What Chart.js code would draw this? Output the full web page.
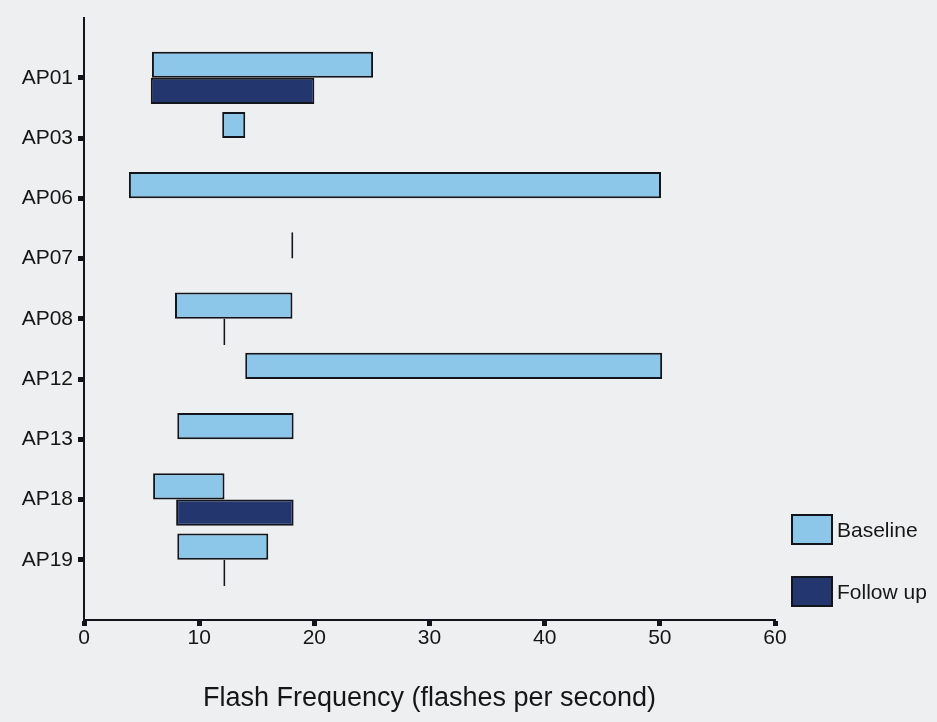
<!DOCTYPE html>
<html lang="en">
<head>
  <meta charset="UTF-8">
  <title>Flash Frequency</title>
  <script src="https://cdn.jsdelivr.net/npm/chart.js"></script>
  <style>
    body {
      margin: 0;
      background-color: #eeeff1;
    }
    .chart-box {
      position: relative;
      width: 937px;
      height: 722px;
    }
  </style>
</head>
<body>
  <div class="chart-box">
    <canvas id="flashChart"></canvas>
  </div>

  <script>
    const categories = ['AP01', 'AP03', 'AP06', 'AP07', 'AP08', 'AP12', 'AP13', 'AP18', 'AP19'];
    // [lowest, highest] flash frequency per participant, null = not tested
    const baseline = [[5.9, 25.1], [12, 14], [3.9, 50.1], [18, 18], [7.9, 18.1], [14, 50.2], [8.1, 18.2], [6, 12.2], [8.1, 16]];
    const followUp = [[5.8, 20], null, null, null, [12.1, 12.1], null, null, [8, 18.2], [12.1, 12.1]];
    const xTicks = [0, 10, 20, 30, 40, 50, 60];
    const seriesNames = ['Baseline', 'Follow up'];
    const xTitle = 'Flash Frequency (flashes per second)';

    const textColor = '#161616';
    const lineColor = '#12151c';
    Chart.defaults.font.family = '"Liberation Sans", Arial, sans-serif';
    Chart.defaults.color = textColor;

    function toPoints(ranges) {
      return ranges
        .map((r, i) => r ? { x: r, y: i + 1 } : null)
        .filter(p => p !== null);
    }

    // legend sits in the right margin, level with the bottom of the plot
    const sideLegend = {
      id: 'sideLegend',
      afterDraw(chart) {
        const { ctx, chartArea } = chart;
        ctx.save();
        chart.data.datasets.forEach((ds, i) => {
          const x = chartArea.right + 17;
          const y = chartArea.bottom - 105 + i * 62;
          ctx.fillStyle = ds.backgroundColor;
          ctx.fillRect(x, y, 40, 29);
          ctx.lineWidth = 2;
          ctx.strokeStyle = ds.borderColor;
          ctx.strokeRect(x, y, 40, 29);
          ctx.fillStyle = textColor;
          ctx.font = '21px "Liberation Sans", Arial, sans-serif';
          ctx.textBaseline = 'middle';
          ctx.fillText(ds.label, x + 45, y + 16);
        });
        ctx.restore();
      }
    };

    const barStyle = {
      borderColor: lineColor,
      borderWidth: 2,
      borderSkipped: false,
      minBarLength: 2,
      categoryPercentage: 0.87,
      barPercentage: 1
    };

    const ctx = document.getElementById('flashChart').getContext('2d');
    new Chart(ctx, {
      type: 'bar',
      data: {
        datasets: [
          Object.assign({ label: seriesNames[0], data: toPoints(baseline), backgroundColor: '#8cc6e8' }, barStyle),
          Object.assign({ label: seriesNames[1], data: toPoints(followUp), backgroundColor: '#23376e' }, barStyle)
        ]
      },
      options: {
        indexAxis: 'y',
        responsive: true,
        maintainAspectRatio: false,
        animation: false,
        layout: {
          padding: { top: 3, right: 162, left: 0, bottom: 0 }
        },
        scales: {
          x: {
            type: 'linear',
            min: 0,
            max: 60,
            afterBuildTicks: axis => { axis.ticks = xTicks.map(v => ({ value: v })); },
            afterFit: axis => { axis.height = 102; },
            grid: {
              drawOnChartArea: false,
              tickLength: 6,
              tickWidth: 5,
              tickColor: lineColor
            },
            border: { color: lineColor, width: 2 },
            ticks: {
              font: { size: 21 },
              padding: 0
            },
            title: {
              display: true,
              text: xTitle,
              font: { size: 27 },
              padding: { top: 0, bottom: 7 }
            }
          },
          y: {
            type: 'linear',
            min: 0,
            max: categories.length + 1,
            reverse: true,
            offset: false,
            afterBuildTicks: axis => { axis.ticks = categories.map((c, i) => ({ value: i + 1 })); },
            afterFit: axis => { axis.width = 84; },
            grid: {
              offset: false,
              drawOnChartArea: false,
              tickLength: 6,
              tickWidth: 5,
              tickColor: lineColor
            },
            border: { color: lineColor, width: 2 },
            ticks: {
              font: { size: 21 },
              padding: 5,
              callback: value => categories[value - 1]
            }
          }
        },
        plugins: {
          legend: { display: false },
          tooltip: { enabled: false }
        }
      },
      plugins: [sideLegend]
    });
  </script>
</body>
</html>
